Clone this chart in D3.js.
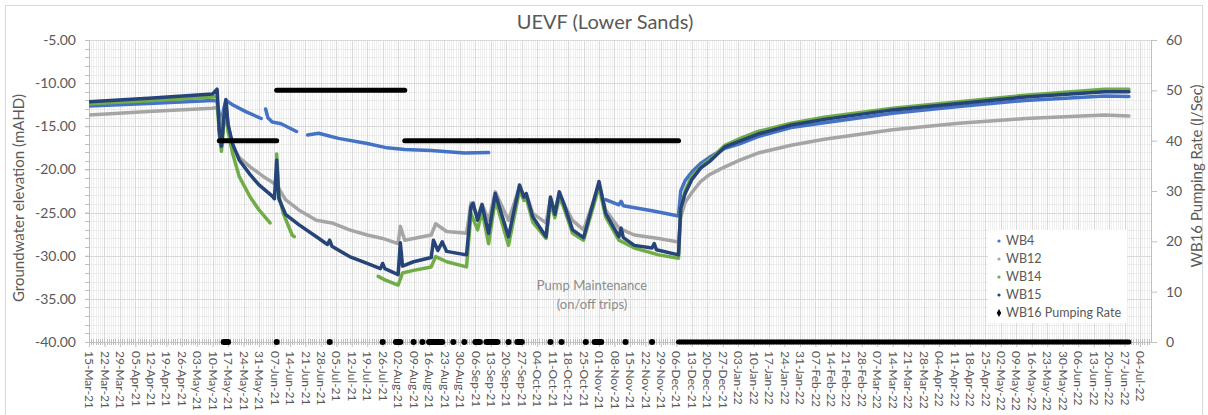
<!DOCTYPE html>
<html>
<head>
<meta charset="utf-8">
<script src="https://cdn.jsdelivr.net/npm/d3@7"></script>
<style>
  body { margin: 0; background: #fff; }
  text { font-family: Lato, "Open Sans", sans-serif; }
</style>
</head>
<body>
<svg id="chart" width="1208" height="415"></svg>
<script>
// groundwater elevations (mAHD), null = gap in logger record
const wb4 = [
  ["2021-03-15",-12.65],["2021-04-11",-12.35],["2021-05-10",-12.0],["2021-05-12",-12.1],["2021-05-13",-13.6],
  ["2021-05-14",-14.4],["2021-05-15",-13.0],["2021-05-16",-12.0],["2021-05-19",-12.5],["2021-05-25",-13.3],
  ["2021-06-01",-14.1],["2021-06-02",null],["2021-06-03",-13.0],["2021-06-04",-14.0],["2021-06-06",-14.5],
  ["2021-06-10",-14.7],["2021-06-17",-15.6],["2021-06-18",null],["2021-06-22",-16.0],["2021-06-27",-15.8],
  ["2021-07-06",-16.4],["2021-07-19",-17.0],["2021-07-28",-17.5],["2021-08-05",-17.7],["2021-08-17",-17.8],
  ["2021-09-01",-18.1],["2021-09-12",-18.05],["2021-09-13",null],["2021-11-04",-23.5],["2021-11-10",-24.1],
  ["2021-11-11",-23.7],["2021-11-12",-24.2],["2021-11-25",-24.8],["2021-12-07",-25.4],["2021-12-08",-22.5],
  ["2021-12-10",-21.3],["2021-12-13",-20.3],["2021-12-17",-19.3],["2021-12-21",-18.6],["2021-12-28",-17.55],
  ["2022-01-04",-17.0],["2022-01-12",-16.2],["2022-01-27",-15.15],["2022-02-11",-14.6],["2022-03-14",-13.5],
  ["2022-04-13",-12.7],["2022-05-13",-12.0],["2022-06-18",-11.5],["2022-06-29",-11.55]
];

const wb12 = [
  ["2021-03-15",-13.7],["2021-04-11",-13.3],["2021-05-10",-12.9],["2021-05-12",-12.8],["2021-05-13",-14.2],
  ["2021-05-14",-15.2],["2021-05-15",-13.6],["2021-05-16",-12.7],["2021-05-17",-14.8],["2021-05-19",-17.3],
  ["2021-05-22",-18.6],["2021-05-27",-19.7],["2021-06-03",-21.0],["2021-06-08",-21.8],["2021-06-12",-23.5],
  ["2021-06-18",-24.7],["2021-06-26",-25.9],["2021-07-03",-26.2],["2021-07-11",-27.0],["2021-07-19",-27.6],
  ["2021-07-26",-28.0],["2021-08-02",-28.6],["2021-08-03",-26.6],["2021-08-05",-28.2],["2021-08-09",-28.0],
  ["2021-08-17",-27.6],["2021-08-19",-26.3],["2021-08-24",-27.2],["2021-09-02",-27.4],["2021-09-04",-23.9],
  ["2021-09-07",-25.5],["2021-09-09",-24.0],["2021-09-12",-25.9],["2021-09-15",-22.6],["2021-09-21",-25.9],
  ["2021-09-26",-22.0],["2021-09-28",-23.2],["2021-09-29",-22.8],["2021-10-02",-25.1],["2021-10-08",-26.2],
  ["2021-10-10",-23.5],["2021-10-12",-24.8],["2021-10-14",-23.0],["2021-10-20",-25.9],["2021-10-25",-27.0],
  ["2021-11-01",-21.8],["2021-11-04",-24.7],["2021-11-10",-26.8],["2021-11-17",-27.6],["2021-11-28",-28.0],
  ["2021-12-07",-28.4],["2021-12-08",-25.5],["2021-12-10",-23.8],["2021-12-13",-22.7],["2021-12-17",-21.4],
  ["2021-12-21",-20.6],["2021-12-28",-19.7],["2022-01-04",-18.9],["2022-01-12",-18.1],["2022-01-27",-17.2],
  ["2022-02-11",-16.5],["2022-03-14",-15.4],["2022-04-13",-14.65],["2022-05-13",-14.1],["2022-06-18",-13.7],
  ["2022-06-29",-13.8]
];

const wb14 = [
  ["2021-03-15",-12.4],["2021-04-11",-12.05],["2021-05-10",-11.6],["2021-05-12",-11.5],["2021-05-13",-16.0],
  ["2021-05-14",-17.9],["2021-05-15",-15.0],["2021-05-16",-12.6],["2021-05-17",-15.6],["2021-05-19",-18.1],
  ["2021-05-22",-20.8],["2021-05-27",-23.2],["2021-05-31",-24.7],["2021-06-05",-26.2],["2021-06-06",null],
  ["2021-06-08",-18.2],["2021-06-09",-23.0],["2021-06-11",-25.1],["2021-06-15",-27.6],["2021-06-16",-27.8],
  ["2021-06-17",null],["2021-07-24",-32.4],["2021-07-27",-32.8],["2021-08-02",-33.4],["2021-08-04",-32.0],
  ["2021-08-09",-31.7],["2021-08-17",-31.3],["2021-08-19",-30.1],["2021-08-24",-30.7],["2021-09-02",-31.3],
  ["2021-09-04",-25.1],["2021-09-07",-27.0],["2021-09-09",-24.8],["2021-09-12",-28.6],["2021-09-15",-23.5],
  ["2021-09-21",-28.8],["2021-09-26",-22.4],["2021-09-28",-23.6],["2021-09-29",-23.3],["2021-10-02",-26.1],
  ["2021-10-08",-28.0],["2021-10-10",-23.8],["2021-10-12",-25.6],["2021-10-14",-23.2],["2021-10-16",-24.4],
  ["2021-10-20",-27.4],["2021-10-25",-28.2],["2021-11-01",-22.0],["2021-11-04",-25.5],["2021-11-10",-28.2],
  ["2021-11-17",-29.1],["2021-11-28",-29.9],["2021-12-07",-30.3],["2021-12-08",-24.5],["2021-12-10",-22.5],
  ["2021-12-13",-20.8],["2021-12-17",-19.7],["2021-12-21",-18.9],["2021-12-28",-17.2],["2022-01-04",-16.4],
  ["2022-01-12",-15.6],["2022-01-27",-14.65],["2022-02-11",-13.95],["2022-03-14",-12.9],["2022-04-13",-12.15],
  ["2022-05-13",-11.4],["2022-06-18",-10.7],["2022-06-29",-10.7]
];

const wb15 = [
  ["2021-03-15",-12.15],["2021-04-11",-11.75],["2021-05-10",-11.25],["2021-05-12",-10.7],["2021-05-13",-15.5],
  ["2021-05-14",-17.3],["2021-05-15",-14.2],["2021-05-16",-11.9],["2021-05-17",-14.8],["2021-05-19",-17.0],
  ["2021-05-22",-18.9],["2021-05-27",-20.6],["2021-05-31",-21.8],["2021-06-06",-23.1],["2021-06-07",-23.4],
  ["2021-06-08",-18.9],["2021-06-09",-23.4],["2021-06-12",-25.2],["2021-06-18",-26.4],["2021-06-26",-27.8],
  ["2021-07-01",-28.7],["2021-07-02",-28.2],["2021-07-03",-28.9],["2021-07-11",-30.1],["2021-07-19",-30.9],
  ["2021-07-25",-31.5],["2021-07-26",-30.9],["2021-07-27",-31.5],["2021-08-02",-32.2],["2021-08-03",-28.5],
  ["2021-08-04",-31.2],["2021-08-09",-30.7],["2021-08-17",-30.2],["2021-08-18",-28.2],["2021-08-20",-29.4],
  ["2021-08-22",-28.4],["2021-08-24",-29.5],["2021-09-02",-29.9],["2021-09-04",-24.3],["2021-09-05",-23.9],
  ["2021-09-07",-25.9],["2021-09-09",-24.1],["2021-09-12",-27.4],["2021-09-15",-22.8],["2021-09-21",-27.8],
  ["2021-09-26",-21.8],["2021-09-28",-23.2],["2021-09-29",-22.8],["2021-10-02",-25.5],["2021-10-08",-27.8],
  ["2021-10-10",-23.2],["2021-10-12",-25.2],["2021-10-14",-22.6],["2021-10-16",-23.9],["2021-10-20",-27.0],
  ["2021-10-25",-27.9],["2021-11-01",-21.4],["2021-11-04",-25.1],["2021-11-10",-27.8],["2021-11-11",-26.8],
  ["2021-11-12",-27.9],["2021-11-17",-28.8],["2021-11-25",-29.1],["2021-11-26",-28.6],["2021-11-27",-29.3],
  ["2021-12-07",-29.9],["2021-12-08",-24.5],["2021-12-10",-22.8],["2021-12-13",-21.2],["2021-12-17",-19.85],
  ["2021-12-21",-19.1],["2021-12-28",-17.4],["2022-01-04",-16.7],["2022-01-12",-15.9],["2022-01-27",-14.85],
  ["2022-02-11",-14.2],["2022-03-14",-13.1],["2022-04-13",-12.35],["2022-05-13",-11.6],["2022-06-18",-11.0],
  ["2022-06-29",-11.0]
];

// WB16 pumping rate (l/s): [from, to, rate]
const pumpRate = [
  ["2021-05-13","2021-06-08",40],["2021-06-08","2021-08-05",50],["2021-08-05","2021-09-07",40],
  ["2021-09-07","2021-09-26",40],["2021-09-26","2021-10-31",40],["2021-10-31","2021-12-07",40],
  ["2021-12-07","2022-06-29",0]
];

// pump trips to 0 l/s during maintenance: [from, to]
const pumpTrips = [
  ["2021-05-15","2021-05-17"],["2021-06-08","2021-06-08"],["2021-07-02","2021-07-02"],["2021-07-26","2021-07-26"],
  ["2021-08-01","2021-08-03"],["2021-08-09","2021-08-09"],["2021-08-13","2021-08-13"],["2021-08-16","2021-08-22"],
  ["2021-08-27","2021-08-27"],["2021-09-01","2021-09-01"],["2021-09-06","2021-09-08"],["2021-09-11","2021-09-16"],
  ["2021-09-21","2021-09-21"],["2021-09-25","2021-09-27"],["2021-10-10","2021-10-10"],["2021-10-15","2021-10-15"],
  ["2021-10-26","2021-10-26"],["2021-10-30","2021-11-02"],["2021-11-13","2021-11-13"],["2021-11-25","2021-11-25"]
];

const seriesNames = ["WB4", "WB12", "WB14", "WB15", "WB16 Pumping Rate"];
const seriesColors = ["#4472c4", "#a5a5a5", "#70ad47", "#264478", "#000000"];
const leftTicks = [-40, -35, -30, -25, -20, -15, -10, -5];
const rightTicks = [0, 10, 20, 30, 40, 50, 60];

const svg = d3.select("#chart");
const plot = { left: 89, right: 1151, top: 40, bottom: 342 };
const parse = d3.timeParse("%Y-%m-%d");
const textColor = "#595959";

const xStart = parse("2021-03-15");
const xEnd = parse("2022-07-09");

const xScale = d3.scaleTime().domain([xStart, xEnd]).range([plot.left, plot.right]);
const yScale = d3.scaleLinear().domain([-40, -5]).range([plot.bottom, plot.top]);
const yRight = d3.scaleLinear().domain([0, 60]).range([plot.bottom, plot.top]);

// chart frame
svg.append("rect")
  .attr("x", 5.5).attr("y", 5.5)
  .attr("width", 1197).attr("height", 420)
  .attr("fill", "#fff")
  .attr("stroke", "#d9d9d9");

// gridlines
const grid = svg.append("g");
const days = d3.timeDay.range(xStart, xEnd);
const weeks = d3.timeMonday.range(xStart, d3.timeDay.offset(xEnd, 1));

grid.selectAll(".vminor")
  .data(days)
  .join("line")
  .attr("x1", d => Math.round(xScale(d)) + 0.5).attr("x2", d => Math.round(xScale(d)) + 0.5)
  .attr("y1", plot.top).attr("y2", plot.bottom)
  .attr("stroke", "#efefef");

grid.selectAll(".hminor")
  .data(d3.range(-40, -4, 1))
  .join("line")
  .attr("x1", plot.left).attr("x2", plot.right)
  .attr("y1", d => Math.round(yScale(d)) + 0.5).attr("y2", d => Math.round(yScale(d)) + 0.5)
  .attr("stroke", "#ebebeb");

grid.selectAll(".vmajor")
  .data(weeks)
  .join("line")
  .attr("x1", d => Math.round(xScale(d)) + 0.5).attr("x2", d => Math.round(xScale(d)) + 0.5)
  .attr("y1", plot.top).attr("y2", plot.bottom)
  .attr("stroke", "#d9d9d9");

grid.selectAll(".hmajor")
  .data(leftTicks)
  .join("line")
  .attr("x1", plot.left).attr("x2", plot.right)
  .attr("y1", d => Math.round(yScale(d)) + 0.5).attr("y2", d => Math.round(yScale(d)) + 0.5)
  .attr("stroke", "#d9d9d9");

// axes
const axisColor = "#bfbfbf";

const xAxis = svg.append("g")
  .attr("transform", `translate(0,${plot.bottom})`)
  .call(d3.axisBottom(xScale).tickValues(weeks).tickFormat(d3.timeFormat("%d-%b-%y")).tickSize(5).tickSizeOuter(0));
xAxis.select(".domain").attr("stroke", axisColor);
xAxis.selectAll(".tick line").attr("stroke", axisColor);
xAxis.selectAll(".tick text")
  .attr("fill", textColor)
  .attr("font-size", 12)
  .attr("font-family", "Lato, sans-serif")
  .attr("text-anchor", "start")
  .attr("transform", "rotate(90)")
  .attr("x", 9).attr("y", 0).attr("dy", "0.36em");

svg.append("g")
  .selectAll("line")
  .data(days)
  .join("line")
  .attr("x1", d => Math.round(xScale(d)) + 0.5).attr("x2", d => Math.round(xScale(d)) + 0.5)
  .attr("y1", plot.bottom - 3).attr("y2", plot.bottom + 3)
  .attr("stroke", axisColor);

const yAxisLeft = svg.append("g")
  .attr("transform", `translate(${plot.left},0)`)
  .call(d3.axisLeft(yScale).tickValues(leftTicks).tickFormat(d => d.toFixed(2)).tickSize(4).tickPadding(9));
yAxisLeft.select(".domain").attr("stroke", axisColor);
yAxisLeft.selectAll(".tick line").attr("stroke", axisColor);
yAxisLeft.selectAll(".tick text").attr("fill", textColor).attr("font-size", 14).attr("font-family", "Lato, sans-serif");

svg.append("g")
  .selectAll("line")
  .data(d3.range(-40, -4, 1))
  .join("line")
  .attr("x1", plot.left - 4).attr("x2", plot.left)
  .attr("y1", d => Math.round(yScale(d)) + 0.5).attr("y2", d => Math.round(yScale(d)) + 0.5)
  .attr("stroke", axisColor);

const yAxisRight = svg.append("g")
  .attr("transform", `translate(${plot.right},0)`)
  .call(d3.axisRight(yRight).tickValues(rightTicks).tickSize(6).tickPadding(9));
yAxisRight.select(".domain").attr("stroke", axisColor);
yAxisRight.selectAll(".tick line").attr("stroke", axisColor);
yAxisRight.selectAll(".tick text").attr("fill", textColor).attr("font-size", 14).attr("font-family", "Lato, sans-serif");

// axis titles
svg.append("text")
  .attr("transform", "translate(24,198) rotate(-90)")
  .attr("text-anchor", "middle")
  .attr("fill", textColor)
  .attr("font-size", 15)
  .text("Groundwater elevation (mAHD)");

svg.append("text")
  .attr("transform", "translate(1202,176) rotate(-90)")
  .attr("text-anchor", "middle")
  .attr("fill", textColor)
  .attr("font-size", 15)
  .text("WB16 Pumping Rate (l/Sec)");

svg.append("text")
  .attr("x", 605).attr("y", 29)
  .attr("text-anchor", "middle")
  .attr("fill", textColor)
  .attr("font-size", 20)
  .text("UEVF (Lower Sands)");

// series
svg.append("clipPath").attr("id", "plot-clip")
  .append("rect")
  .attr("x", plot.left).attr("y", plot.top - 4)
  .attr("width", plot.right - plot.left).attr("height", plot.bottom - plot.top + 8);

const marks = svg.append("g").attr("clip-path", "url(#plot-clip)");

const lineGen = d3.line()
  .defined(d => d[1] !== null)
  .x(d => xScale(parse(d[0])))
  .y(d => yScale(d[1]));

[wb4, wb12, wb14, wb15].forEach((series, i) => {
  marks.append("path")
    .datum(series)
    .attr("d", lineGen)
    .attr("fill", "none")
    .attr("stroke", seriesColors[i])
    .attr("stroke-width", 3.5)
    .attr("stroke-linejoin", "round")
    .attr("stroke-linecap", "round");
});

marks.selectAll(".pump")
  .data(pumpRate)
  .join("line")
  .attr("x1", d => xScale(parse(d[0])))
  .attr("x2", d => xScale(parse(d[1])))
  .attr("y1", d => yRight(d[2]))
  .attr("y2", d => yRight(d[2]))
  .attr("stroke", "#000")
  .attr("stroke-width", 5)
  .attr("stroke-linecap", "round");

marks.selectAll(".trip")
  .data(pumpTrips)
  .join("line")
  .attr("x1", d => xScale(parse(d[0])))
  .attr("x2", d => xScale(parse(d[1])))
  .attr("y1", yRight(0))
  .attr("y2", yRight(0))
  .attr("stroke", "#000")
  .attr("stroke-width", 6)
  .attr("stroke-linecap", "round");

// annotation
svg.append("text")
  .attr("x", 592).attr("y", 290)
  .attr("text-anchor", "middle")
  .attr("fill", "#8c8c8c")
  .attr("font-size", 13)
  .text("Pump Maintenance");

svg.append("text")
  .attr("x", 592).attr("y", 309)
  .attr("text-anchor", "middle")
  .attr("fill", "#8c8c8c")
  .attr("font-size", 13)
  .text("(on/off trips)");

// legend
const legend = svg.append("g").attr("transform", "translate(988,230)");
legend.append("rect")
  .attr("width", 139).attr("height", 93)
  .attr("fill", "#fff");

const items = legend.selectAll(".item")
  .data(seriesNames)
  .join("g")
  .attr("transform", (d, i) => `translate(0,${11 + i * 18})`);

items.filter((d, i) => i < 4)
  .append("circle")
  .attr("cx", 11).attr("cy", 0).attr("r", 1.6)
  .attr("fill", (d, i) => seriesColors[i]);

items.filter((d, i) => i === 4)
  .append("path")
  .attr("transform", "translate(11,0)")
  .attr("d", d3.symbol(d3.symbolDiamond, 18))
  .attr("fill", "#000");

items.append("text")
  .attr("x", 18).attr("y", 0).attr("dy", "0.35em")
  .attr("fill", textColor)
  .attr("font-size", 12.5)
  .text(d => d);
</script>
</body>
</html>
